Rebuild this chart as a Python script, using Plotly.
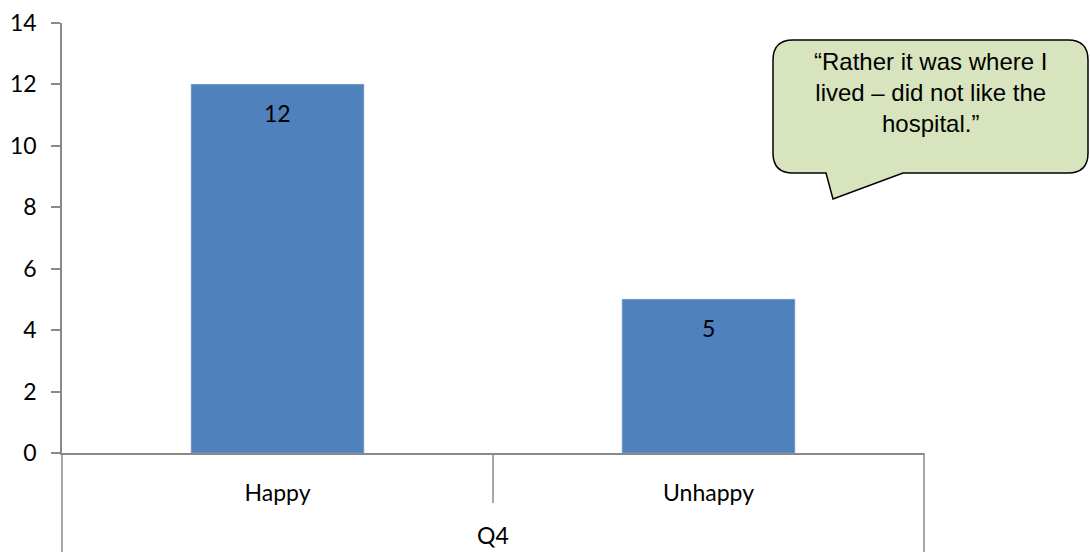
import plotly.graph_objects as go

# Survey responses for Q4
categories = ["Happy", "Unhappy"]
counts = [12, 5]
question = "Q4"
quote_lines = ["\u201cRather it was where I", "lived \u2013 did not like the", "hospital.\u201d"]
y_ticks = [0, 2, 4, 6, 8, 10, 12, 14]

W, H = 1090, 552
ML, MR, MT, MB = 62, 166, 23, 99
PW, PH = W - ML - MR, H - MT - MB

AXIS = "#898989"
TICK_FONT = dict(family="Lato, Calibri, sans-serif", size=23, color="black")


def px_x(px):
    return (px - ML) / PW


def px_y(py):
    return (H - MB - py) / PH


fig = go.Figure()
fig.add_trace(go.Bar(
    x=list(range(len(categories))),
    y=counts,
    width=0.4,
    marker=dict(color="#4f81bd", line=dict(color="#6f96c9", width=1)),
    hoverinfo="skip",
))

# value labels inside the top of each bar
for i, v in enumerate(counts):
    fig.add_annotation(x=i, y=v, text=str(v), showarrow=False, xref="x", yref="y",
                       yanchor="middle", yshift=-29, font=TICK_FONT)

shapes = []
# divider between categories on the axis
shapes.append(dict(type="line", xref="x", yref="paper", x0=0.5, x1=0.5,
                   y0=0, y1=-50 / PH, line=dict(color=AXIS, width=1.5)))
# outer frame of the grouped category axis
shapes.append(dict(type="line", xref="paper", yref="paper", x0=0, x1=0,
                   y0=0, y1=-MB / PH, line=dict(color=AXIS, width=1.5)))
shapes.append(dict(type="line", xref="paper", yref="paper", x0=1, x1=1,
                   y0=0, y1=-MB / PH, line=dict(color=AXIS, width=1.5)))

# speech bubble
L, R, T, B, r = 773, 1088, 40, 173, 20
tip = (833, 199)
bx0, bx1 = 826, 903


def P(x, y):
    return f"{px_x(x):.5f},{px_y(y):.5f}"


path = (
    f"M {P(L + r, T)} L {P(R - r, T)} Q {P(R, T)} {P(R, T + r)} "
    f"L {P(R, B - r)} Q {P(R, B)} {P(R - r, B)} "
    f"L {P(bx1, B)} L {P(*tip)} L {P(bx0, B)} "
    f"L {P(L + r, B)} Q {P(L, B)} {P(L, B - r)} "
    f"L {P(L, T + r)} Q {P(L, T)} {P(L + r, T)} Z"
)
shapes.append(dict(type="path", xref="paper", yref="paper", path=path,
                   fillcolor="#d7e4bd", line=dict(color="black", width=1.5), layer="above"))

fig.add_annotation(xref="paper", yref="paper", x=px_x((L + R) / 2), y=px_y(92.5),
                   text="<br>".join(quote_lines), showarrow=False, align="center",
                   xanchor="center", yanchor="middle",
                   font=dict(family="Liberation Sans, Arial, sans-serif", size=24, color="black"))

# outer category label
fig.add_annotation(xref="paper", yref="paper", x=0.5, y=px_y(535), text=question,
                   showarrow=False, yanchor="middle", font=TICK_FONT)

fig.update_layout(
    width=W, height=H,
    margin=dict(l=ML, r=MR, t=MT, b=MB, autoexpand=False),
    paper_bgcolor="white", plot_bgcolor="white",
    showlegend=False,
    shapes=shapes,
    xaxis=dict(
        range=[-0.5, 1.5], tickvals=list(range(len(categories))), ticktext=categories,
        showline=True, linecolor=AXIS, linewidth=1.5, ticks="", showgrid=False,
        zeroline=False, tickfont=TICK_FONT, ticklabelstandoff=19, fixedrange=True,
        automargin=False,
    ),
    yaxis=dict(
        range=[0, 14], tickvals=y_ticks, showline=True, linecolor=AXIS, linewidth=1.5,
        ticks="outside", ticklen=9, tickcolor=AXIS, tickwidth=1.5, showgrid=False,
        zeroline=False, tickfont=TICK_FONT, ticklabelstandoff=10, fixedrange=True,
        automargin=False,
    ),
)

fig.write_html("out.html")
